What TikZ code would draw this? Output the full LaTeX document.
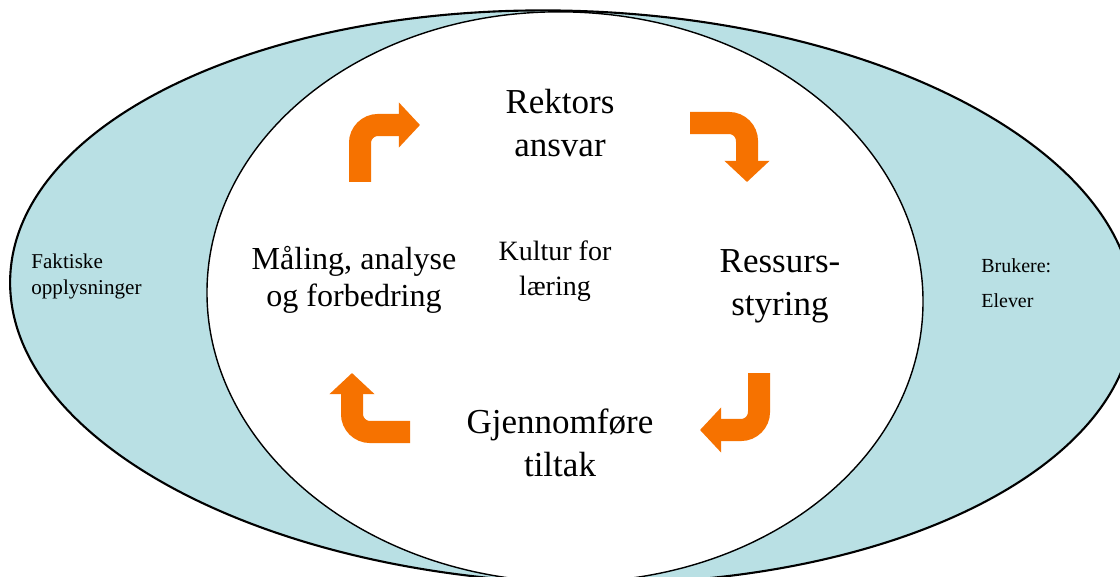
\documentclass[tikz,border=0pt]{standalone}
\usepackage{fontspec}
\setmainfont{Liberation Serif}
\usetikzlibrary{positioning,shapes,arrows.meta}
\definecolor{crescent}{RGB}{185,224,228}
\definecolor{arroworange}{RGB}{246,114,0}

\tikzset{
    stagetext/.style={font=\fontsize{24.9}{30.6}\selectfont, align=center},
    sidetext/.style={font=\fontsize{14.2}{18.5}\selectfont, align=left, anchor=west},
    cyclearrow/.style={->, draw=arroworange, line width=0.55cm, rounded corners=0.45cm}
}

\begin{document}
\begin{tikzpicture}[x=0.025cm, y=-0.025cm, line width=1pt, >={Triangle[length=0.53cm, width=1.1cm]}]
    \useasboundingbox (0,0) rectangle (1120,577);
    \clip (0,0) rectangle (1120,577);

    \node[shape=ellipse, draw=black, line width=1.5pt, fill=crescent, minimum width=28.1cm, minimum height=14.3cm, rotate=-2] (outerSet) at (572,297) {};
    \node[shape=ellipse, draw=black, fill=white, minimum width=17.9cm, minimum height=14.25cm, rotate=-2] (innerSet) at (565,297) {};

    \node[stagetext] (rektor) at (560,123) {Rektors\\ansvar};
    \node[stagetext] (ressurs) at (780,286) {Ressurs-\\styring};
    \node[stagetext] (gjennom) at (560,443) {Gjennomføre\\tiltak};
    \node[stagetext, font=\fontsize{22.8}{26.3}\selectfont] (maaling) at (354,280) {Måling, analyse\\og forbedring};
    \node[stagetext, font=\fontsize{19.9}{24.9}\selectfont] (kultur) at (555,271) {Kultur for\\læring};

    \node[sidetext, font=\fontsize{15}{18.5}\selectfont] (fakta) at (26,276) {Faktiske\\opplysninger};
    \node[sidetext] (brukere) at (976,283) {Brukere:\\[6pt]Elever};

    % the four turning arrows round the cycle
    \coordinate (tlStart) at (360,182);
    \coordinate (tlEnd) at (420,125);
    \coordinate (trStart) at (690,123);
    \coordinate (trEnd) at (747,182);
    \coordinate (brStart) at (759,373);
    \coordinate (brEnd) at (700,430);
    \coordinate (blStart) at (410,432);
    \coordinate (blEnd) at (352,373);

    \draw[cyclearrow] (tlStart) |- (tlEnd);
    \draw[cyclearrow] (trStart) -| (trEnd);
    \draw[cyclearrow] (brStart) |- (brEnd);
    \draw[cyclearrow] (blStart) -| (blEnd);

\end{tikzpicture}
\end{document}
